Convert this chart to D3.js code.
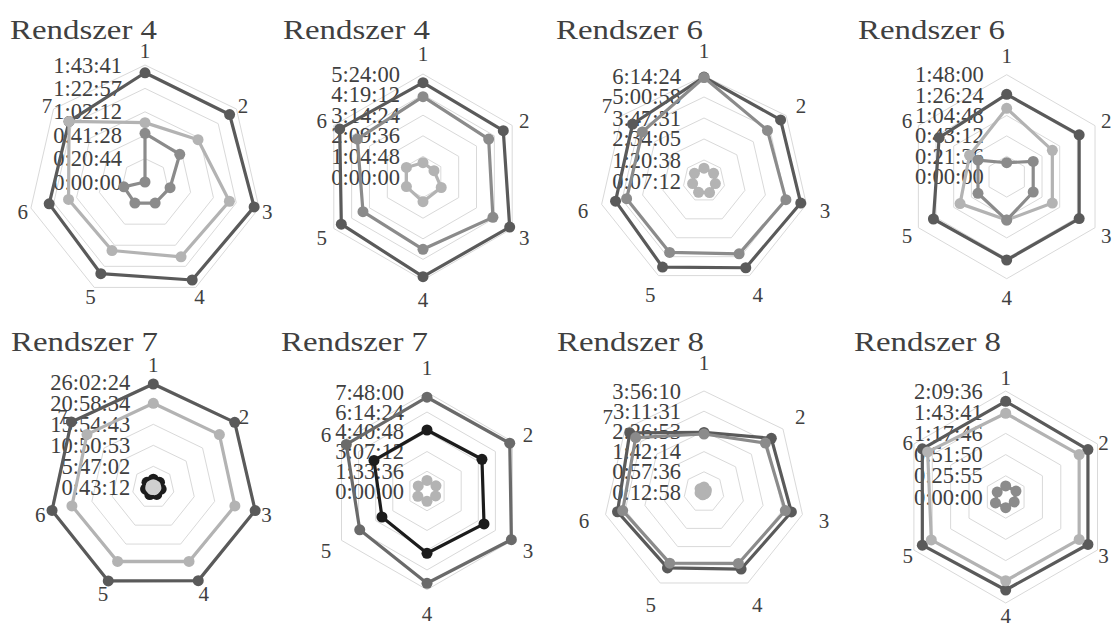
<!DOCTYPE html>
<html>
<head>
<meta charset="utf-8">
<script src="https://cdn.jsdelivr.net/npm/d3@7"></script>
<style>
  body { margin: 0; background: #fff; }
  text { font-family: "Liberation Serif", "Times New Roman", serif; fill: #404040; }
</style>
</head>
<body>
<svg id="chart" width="1115" height="628"></svg>
<script>
// titles of the 8 small radar charts, left to right, top to bottom
const titles = ['Rendszer 4', 'Rendszer 4', 'Rendszer 6', 'Rendszer 6',
                'Rendszer 7', 'Rendszer 7', 'Rendszer 8', 'Rendszer 8'];
const axisCounts = [7, 6, 7, 6, 7, 6, 7, 6];

// radial axis tick labels (h:mm:ss), first = centre, last = outer ring
const tickLabels = [
    ['0:00:00', '0:20:44', '0:41:28', '1:02:12', '1:22:57', '1:43:41'],
    ['0:00:00', '1:04:48', '2:09:36', '3:14:24', '4:19:12', '5:24:00'],
    ['0:07:12', '1:20:38', '2:34:05', '3:47:31', '5:00:58', '6:14:24'],
    ['0:00:00', '0:21:36', '0:43:12', '1:04:48', '1:26:24', '1:48:00'],
    ['0:43:12', '5:47:02', '10:50:53', '15:54:43', '20:58:34', '26:02:24'],
    ['0:00:00', '1:33:36', '3:07:12', '4:40:48', '6:14:24', '7:48:00'],
    ['0:12:58', '0:57:36', '1:42:14', '2:26:53', '3:11:31', '3:56:10'],
    ['0:00:00', '0:25:55', '0:51:50', '1:17:46', '1:43:41', '2:09:36']
];

// series values in minutes, one value per axis (1..N)
const p1Dark  = [96.8, 95.9, 99.2, 96.4, 90.2, 87.1, 86.1];
const p1Light = [52.6, 60.1, 76.7, 73.6, 67.4, 69.5, 86.1];
const p1Mid   = [43.1, 39.4, 22.8, 20.7, 20.7, 19.2, 0];

const p2Dark  = [296.7, 291.6, 314.9, 313.6, 296.7, 302.6];
const p2Mid   = [252.7, 238.5, 254.0, 227.4, 218.0, 238.5];
const p2Light = [45.0, 39.9, 66.1, 77.8, 60.3, 60.3];

const p3Dark  = [370.7, 349.8, 354.2, 343.9, 341.4, 324.5, 326.7];
const p3Mid   = [368.9, 291.0, 301.0, 290.0, 284.4, 284.8, 282.6];
const p3Light = [52.0, 50.0, 48.0, 52.0, 51.0, 48.0, 50.0];

const p4Dark  = [87.2, 88.6, 88.6, 88.2, 89.6, 82.6];
const p4Light = [72.4, 55.8, 55.8, 45.9, 57.0, 45.4];
const p4Mid   = [14.8, 32.4, 32.4, 45.9, 35.1, 35.1];

const p5Dark  = [1538, 1550, 1555, 1542, 1546, 1546, 1560];
const p5Light = [1258.6, 1266.2, 1254.0, 1234.3, 1234.3, 1251.0, 1270.7];
const p5Black = [160, 158, 160, 158, 160, 158, 160];
const p5Pale  = [81, 80, 82, 81, 80, 82, 81];

const p6Dark  = [444.6, 453.0, 461.9, 437.6, 368.3, 441.8];
const p6Black = [289.2, 300.9, 312.2, 295.3, 246.6, 290.2];
const p6Light = [50, 49, 47, 49, 50, 48];

const p7Dark  = [144.6, 203.3, 211.0, 202.0, 199.1, 209.0, 222.8];
const p7Mid   = [141.1, 186.4, 197.3, 188.2, 187.5, 197.3, 206.0];
const p7Light = [24.1, 19.7, 17.4, 17.4, 19.7, 21.9, 24.1];

const p8Dark  = [117.0, 116.1, 116.1, 113.7, 117.7, 117.7];
const p8Light = [102.4, 103.7, 103.7, 102.4, 105.0, 110.2];
const p8Mid   = [13.5, 14.5, 12.0, 13.0, 14.5, 12.0];

// which series go in which panel (drawing order) and their shade
const panelSeries = [
    [[p1Dark, 'dark'], [p1Light, 'light'], [p1Mid, 'mid']],
    [[p2Dark, 'dark'], [p2Mid, 'mid'], [p2Light, 'light']],
    [[p3Dark, 'dark'], [p3Mid, 'mid'], [p3Light, 'light']],
    [[p4Dark, 'dark'], [p4Light, 'light'], [p4Mid, 'mid']],
    [[p5Dark, 'dark'], [p5Light, 'light'], [p5Black, 'black'], [p5Pale, 'pale']],
    [[p6Dark, 'dark2'], [p6Black, 'black'], [p6Light, 'light']],
    [[p7Dark, 'dark'], [p7Mid, 'mid'], [p7Light, 'light']],
    [[p8Dark, 'dark'], [p8Light, 'light'], [p8Mid, 'mid']]
];

const COLORS = {
    dark: '#5a5a5a', dark2: '#6a6a6a', mid: '#8b8b8b',
    light: '#b3b3b3', black: '#1c1c1c', pale: '#cfcfcf'
};

// panel geometry: centre, radius, category label gap, title position
const layout = [
    { cx: 145, cy: 182, R: 117, gap: 8.5, tx: 10, ty: 39 },
    { cx: 423, cy: 177, R: 103, gap: 14, tx: 283, ty: 39 },
    { cx: 704, cy: 181, R: 105, gap: 19, tx: 556, ty: 39 },
    { cx: 1006.7, cy: 176.7, R: 102, gap: 13, tx: 858, ty: 39 },
    { cx: 153.3, cy: 487.3, R: 105, gap: 11, tx: 11, ty: 351 },
    { cx: 427, cy: 491, R: 98.7, gap: 18, tx: 281, ty: 351 },
    { cx: 704, cy: 492, R: 101, gap: 22, tx: 557, ty: 351 },
    { cx: 1005.7, cy: 497, R: 106, gap: 7, tx: 854, ty: 351 }
];

const TITLE_W = 147;
const MARKER_R = 5.5;

function toMinutes(s) {
    const p = s.split(':').map(Number);
    return p[0] * 60 + p[1] + p[2] / 60;
}

const svg = d3.select('#chart');

titles.forEach((title, i) => {
    const L = layout[i];
    const n = axisCounts[i];
    const ticks = tickLabels[i];
    const tickVals = ticks.map(toMinutes);

    const r = d3.scaleLinear()
        .domain([tickVals[0], tickVals[tickVals.length - 1]])
        .range([0, L.R])
        .clamp(true);
    const angle = d3.scaleLinear().domain([0, n]).range([0, 2 * Math.PI]);
    const px = (k, v) => L.cx + r(v) * Math.sin(angle(k));
    const py = (k, v) => L.cy - r(v) * Math.cos(angle(k));

    const g = svg.append('g').attr('class', 'panel');

    g.append('text')
        .attr('x', L.tx)
        .attr('y', L.ty)
        .attr('font-size', 26.5)
        .attr('textLength', TITLE_W)
        .attr('lengthAdjust', 'spacingAndGlyphs')
        .text(title);

    const idx = d3.range(n);

    /** grid rings */
    const ring = d3.line().curve(d3.curveLinearClosed);
    g.selectAll('path.ring')
        .data(tickVals.slice(1))
        .enter()
        .append('path')
        .attr('class', 'ring')
        .attr('d', (t) => ring(idx.map((k) => [px(k, t), py(k, t)])))
        .attr('fill', 'none')
        .attr('stroke', '#d9d9d9')
        .attr('stroke-width', 1);

    /** tick labels */
    g.selectAll('text.tick')
        .data(ticks)
        .enter()
        .append('text')
        .attr('class', 'tick')
        .attr('x', L.cx - 23)
        .attr('y', (d, j) => L.cy - r(tickVals[j]))
        .attr('text-anchor', 'end')
        .attr('dominant-baseline', 'central')
        .attr('font-size', 22.5)
        .text((d) => d);

    /** series: polygon + markers */
    panelSeries[i].forEach(([vals, shade]) => {
        const col = COLORS[shade];
        const pts = vals.map((v, k) => [px(k, v), py(k, v)]);
        g.append('path')
            .attr('d', ring(pts))
            .attr('fill', 'none')
            .attr('stroke', col)
            .attr('stroke-width', 3.2)
            .attr('stroke-linejoin', 'round');
        g.selectAll(null)
            .data(pts)
            .enter()
            .append('circle')
            .attr('cx', (d) => d[0])
            .attr('cy', (d) => d[1])
            .attr('r', MARKER_R)
            .attr('fill', col);
    });

    /** category labels 1..n, a bit further out at the top / bottom vertex */
    const isTop = (k) => Math.cos(angle(k)) > 0.95;
    const isBottom = (k) => Math.cos(angle(k)) < -0.95;
    const labDist = (k) => L.R + L.gap + (isTop(k) ? 8 : isBottom(k) ? 6 : 0);
    g.selectAll('text.cat')
        .data(idx)
        .enter()
        .append('text')
        .attr('class', 'cat')
        .attr('x', (k) => L.cx + labDist(k) * Math.sin(angle(k)))
        .attr('y', (k) => L.cy - labDist(k) * Math.cos(angle(k)) + (isBottom(k) ? 0 : 2))
        .attr('text-anchor', 'middle')
        .attr('dominant-baseline', 'central')
        .attr('font-size', 21)
        .text((k) => k + 1);
});
</script>
</body>
</html>
